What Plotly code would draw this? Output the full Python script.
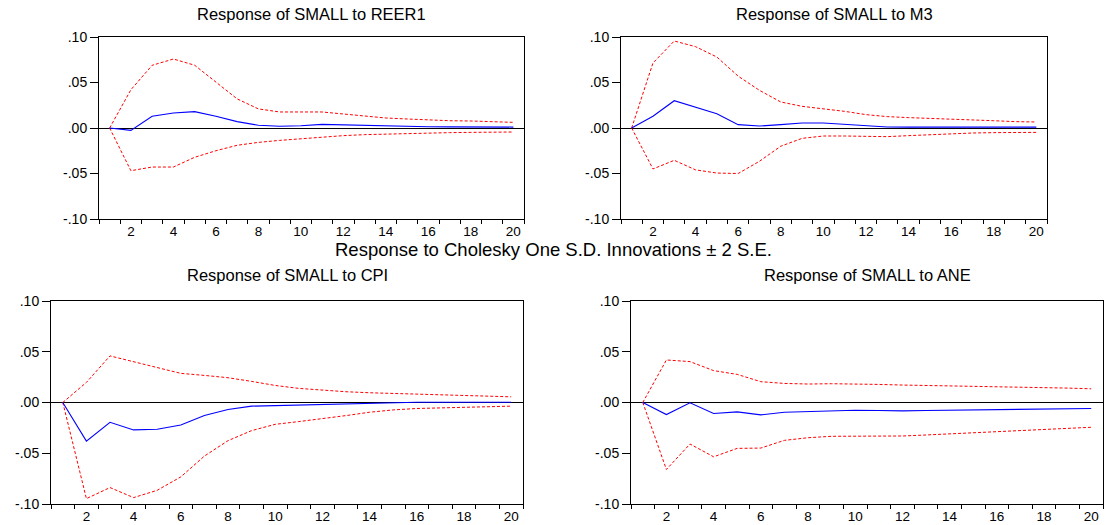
import plotly.graph_objects as go

periods = list(range(1, 21))

# Response of SMALL to REER1
reer1_resp = [0.0, -0.0026, 0.013, 0.0165, 0.018, 0.013, 0.007, 0.003, 0.002, 0.0025,
              0.004, 0.0035, 0.0025, 0.0018, 0.0015, 0.0013, 0.0012, 0.0012, 0.0011, 0.001]
reer1_upper = [0.0, 0.042, 0.0689, 0.0758, 0.069, 0.051, 0.032, 0.021, 0.0176, 0.0176,
               0.0176, 0.0154, 0.0128, 0.011, 0.0099, 0.0088, 0.008, 0.0077, 0.007, 0.0062]
reer1_lower = [0.0, -0.0469, -0.0429, -0.0429, -0.0322, -0.025, -0.019, -0.0158, -0.0136, -0.0117,
               -0.0099, -0.0084, -0.0073, -0.0066, -0.0059, -0.0055, -0.0051, -0.0048, -0.0044, -0.0044]

# Response of SMALL to M3
m3_resp = [0.0, 0.013, 0.030, 0.023, 0.0157, 0.0037, 0.0022, 0.0037, 0.0055, 0.0055,
           0.004, 0.0018, 0.0011, 0.001, 0.001, 0.001, 0.001, 0.001, 0.001, 0.001]
m3_upper = [0.0, 0.0714, 0.0956, 0.0894, 0.078, 0.057, 0.0414, 0.0286, 0.0238, 0.0212,
            0.0183, 0.0147, 0.0125, 0.0114, 0.0106, 0.0103, 0.0092, 0.008, 0.007, 0.0066]
m3_lower = [0.0, -0.045, -0.0355, -0.046, -0.0495, -0.050, -0.0366, -0.020, -0.0114, -0.0088,
            -0.0088, -0.0095, -0.0095, -0.0084, -0.0073, -0.0062, -0.0055, -0.0051, -0.0048, -0.0048]

# Response of SMALL to CPI
cpi_resp = [0.0, -0.038, -0.0195, -0.027, -0.0264, -0.0221, -0.0129, -0.0069, -0.0036, -0.003,
            -0.0026, -0.0023, -0.0017, -0.0007, 0.0, 0.0002, 0.0003, 0.0003, 0.0003, 0.0003]
cpi_upper = [0.0, 0.0198, 0.0459, 0.040, 0.0347, 0.0287, 0.0267, 0.0244, 0.0208, 0.0168,
             0.0139, 0.0119, 0.0106, 0.0096, 0.0089, 0.0079, 0.0073, 0.0066, 0.0059, 0.0056]
cpi_lower = [0.0, -0.0947, -0.0838, -0.0937, -0.0865, -0.0733, -0.0528, -0.0376, -0.0277, -0.0215,
             -0.0188, -0.0162, -0.0129, -0.0096, -0.0073, -0.0059, -0.0053, -0.005, -0.0043, -0.0036]

# Response of SMALL to ANE
ane_resp = [0.0, -0.0119, -0.0003, -0.0109, -0.0092, -0.0122, -0.0096, -0.0089, -0.0076, -0.0076,
            -0.0079, -0.0083, -0.0079, -0.0076, -0.0073, -0.0069, -0.0069, -0.0066, -0.0063, -0.0059]
ane_upper = [0.0, 0.0419, 0.0403, 0.0314, 0.0277, 0.0205, 0.0188, 0.0182, 0.0185, 0.0185,
             0.0178, 0.0172, 0.0168, 0.0165, 0.0162, 0.0158, 0.0155, 0.0149, 0.0142, 0.0135]
ane_lower = [0.0, -0.066, -0.0409, -0.0535, -0.0452, -0.0449, -0.0373, -0.0347, -0.0333, -0.0333,
             -0.0333, -0.033, -0.032, -0.031, -0.030, -0.0287, -0.0277, -0.0267, -0.0257, -0.0244]

titles = ["Response of SMALL to REER1", "Response of SMALL to M3",
          "Response of SMALL to CPI", "Response of SMALL to ANE"]
main_title = "Response to Cholesky One S.D. Innovations \u00b1 2 S.E."

y_tickvals = [-0.10, -0.05, 0.0, 0.05, 0.10]
y_ticktext = ["-.10", "-.05", ".00", ".05", ".10"]
x_tickvals = list(range(2, 21, 2))
x_ticktext = [str(v) for v in x_tickvals]

series = [(reer1_resp, reer1_upper, reer1_lower), (m3_resp, m3_upper, m3_lower),
          (cpi_resp, cpi_upper, cpi_lower), (ane_resp, ane_upper, ane_lower)]

W, H = 1107, 525
# pixel boxes (left, right, top, bottom)
boxes = [(99, 524, 37, 219), (621, 1047, 37, 219), (51, 523, 301, 504), (631, 1103, 301, 504)]
title_y = [14, 14, 275, 275]

FONT = "Arial, Liberation Sans, Helvetica, sans-serif"
fig = go.Figure()
layout = dict(width=W, height=H, margin=dict(l=0, r=0, t=0, b=0, autoexpand=False),
              paper_bgcolor="white", plot_bgcolor="white", showlegend=False,
              font=dict(family=FONT, color="black", size=13))
annotations = []
for i, ((resp, up, lo), (l, r, t, b)) in enumerate(zip(series, boxes)):
    k = "" if i == 0 else str(i + 1)
    xa, ya = "x" + k, "y" + k
    for s in (up, lo):
        fig.add_trace(go.Scatter(x=periods, y=s, mode="lines", xaxis=xa, yaxis=ya,
                                 line=dict(color="#FF0000", width=1, dash="3px,2px")))
    fig.add_trace(go.Scatter(x=periods, y=resp, mode="lines", xaxis=xa, yaxis=ya,
                             line=dict(color="#0000FF", width=1.1)))
    layout["xaxis" + k] = dict(domain=[l / W, r / W], anchor=ya, range=[0.5, 20.5],
                               tickvals=x_tickvals, ticktext=x_ticktext, ticks="",
                               showline=True, mirror=True, linecolor="black", linewidth=1,
                               showgrid=False, zeroline=False, tickfont=dict(size=13.5),
                               minor=dict(ticks="outside", tickvals=[v + 0.5 for v in range(0, 21)],
                                          ticklen=4, tickcolor="black", showgrid=False))
    layout["yaxis" + k] = dict(domain=[1 - b / H, 1 - t / H], anchor=xa, range=[-0.1, 0.1],
                               tickvals=y_tickvals, ticktext=y_ticktext, ticks="outside",
                               ticklen=8, tickcolor="black", showline=True, mirror=True,
                               linecolor="black", linewidth=1, showgrid=False,
                               zeroline=True, zerolinecolor="black", zerolinewidth=1,
                               tickfont=dict(size=14))
    annotations.append(dict(text=titles[i], x=(l + r) / 2 / W, y=1 - title_y[i] / H,
                            xref="paper", yref="paper", xanchor="center", yanchor="middle",
                            showarrow=False, font=dict(size=16.5)))
annotations.append(dict(text=main_title, x=553 / W, y=1 - 249 / H, xref="paper", yref="paper",
                        xanchor="center", yanchor="middle", showarrow=False, font=dict(size=18.5)))
layout["annotations"] = annotations
fig.update_layout(**layout)
fig.write_html("out.html", config={"displayModeBar": False},
               post_script="document.body.style.margin='0';")
